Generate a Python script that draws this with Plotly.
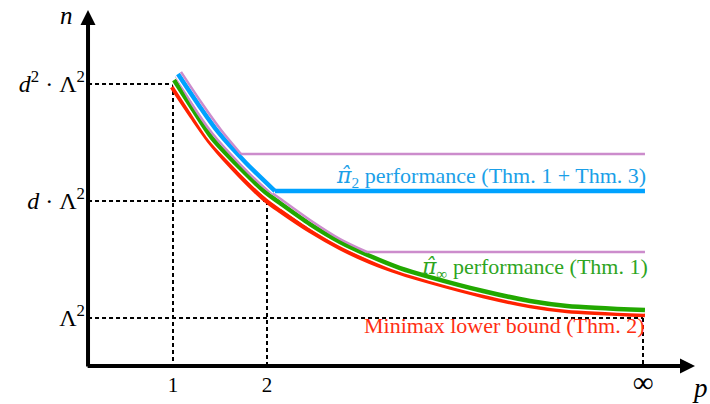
import plotly.graph_objects as go

# ---- data (p-position, n-level) ----
# p positions: 1 -> 1, 2 -> 2, infinity -> 6 ; n levels: Lambda^2 -> 1, d*Lambda^2 -> 2, d^2*Lambda^2 -> 3
tick_p = [1, 2, 6]
tick_p_text = ["1", "2", "<span style='font-size:29px'>∞</span>"]
tick_n = [1, 2, 3]
tick_n_text = ["Λ<sup>2</sup>", "<i>d</i> · Λ<sup>2</sup>", "<i>d</i><sup>2</sup> · Λ<sup>2</sup>"]

red_x = [0.989, 1.202, 1.415, 1.713, 1.979, 2.138, 2.457, 2.777, 3.096, 3.415, 3.734, 4.298, 4.798, 5.191, 6.021]
red_y = [2.974, 2.718, 2.479, 2.214, 2.009, 1.915, 1.744, 1.598, 1.479, 1.385, 1.308, 1.188, 1.103, 1.060, 1.026]

green_x = [1.011, 1.202, 1.415, 1.713, 1.979, 2.138, 2.457, 2.777, 3.096, 3.415, 3.734, 4.298, 4.798, 5.191, 6.021]
green_y = [3.034, 2.795, 2.538, 2.282, 2.077, 1.983, 1.803, 1.650, 1.530, 1.427, 1.350, 1.231, 1.145, 1.103, 1.068]

blue_curve_x = [1.053, 1.266, 1.479, 1.777, 2.085]
blue_curve_y = [3.085, 2.829, 2.590, 2.325, 2.085]
blue_flat_x = [2.085, 6.021]
blue_flat_y = [2.085, 2.085]

lav1_curve_x = [1.085, 1.298, 1.511, 1.723]
lav1_curve_y = [3.103, 2.846, 2.607, 2.402]
lav1_flat_x = [1.723, 6.021]
lav1_flat_y = [2.402, 2.402]

lav2_curve_x = [1.032, 1.202, 1.415, 1.713, 1.979, 2.138, 2.457, 2.777, 3.064]
lav2_curve_y = [3.068, 2.829, 2.581, 2.316, 2.111, 2.021, 1.838, 1.675, 1.564]
lav2_flat_x = [3.064, 6.021]
lav2_flat_y = [1.564, 1.564]

guide_p = [1, 2, 6]      # where dashed guides meet
guide_n = [3, 2, 1]

origin_x, origin_y = 0.096, 0.590
x_tip, y_tip = 6.553, 3.632

HAT = "<span style='font-family:DejaVu Serif'><i>π̂</i></span>"
labels = [
    (HAT + "<sub>2</sub> performance (Thm. 1 + Thm. 3)", 6.05, 2.209, "#1a9fe8"),
    (HAT + "<sub>∞</sub> performance (Thm. 1)", 6.07, 1.427, "#2ea51e"),
    ("Minimax lower bound (Thm. 2)", 6.03, 0.936, "#ff2e12"),
]

RED = "#ff2200"
GREEN = "#22a800"
BLUE = "#00a2ff"
LAV = "#cc8ccc"
FONT = "Liberation Serif"

fig = go.Figure()

# dashed guides
for gp, gn in zip(guide_p, guide_n):
    fig.add_trace(go.Scatter(x=[origin_x, gp], y=[gn, gn], mode="lines",
                             line=dict(color="black", width=2, dash="4px,3px"),
                             hoverinfo="skip", showlegend=False, cliponaxis=False))
    fig.add_trace(go.Scatter(x=[gp, gp], y=[gn, origin_y], mode="lines",
                             line=dict(color="black", width=2, dash="4px,3px"),
                             hoverinfo="skip", showlegend=False, cliponaxis=False))

def add_line(x, y, color, width, shape="spline"):
    fig.add_trace(go.Scatter(x=x, y=y, mode="lines",
                             line=dict(color=color, width=width, shape=shape, smoothing=0.8),
                             hoverinfo="skip", showlegend=False))

add_line(red_x, red_y, RED, 4.5)
add_line(green_x, green_y, "white", 7.5)
add_line(green_x, green_y, GREEN, 4.5)
add_line(lav2_curve_x, lav2_curve_y, LAV, 2.5)
add_line(lav2_flat_x, lav2_flat_y, LAV, 2.5, "linear")
add_line(blue_curve_x, blue_curve_y, "white", 7)
add_line(blue_curve_x, blue_curve_y, BLUE, 4.5)
add_line(blue_flat_x, blue_flat_y, BLUE, 4.5, "linear")
add_line(lav1_curve_x, lav1_curve_y, LAV, 2.5)
add_line(lav1_flat_x, lav1_flat_y, LAV, 2.5, "linear")

annotations = []
# axes with arrow heads
annotations.append(dict(x=x_tip, y=origin_y, ax=origin_x - 0.02, ay=origin_y, xref="x", yref="y",
                        axref="x", ayref="y", text="", showarrow=True, arrowhead=2,
                        arrowwidth=4, arrowsize=0.75, arrowcolor="black", standoff=0))
annotations.append(dict(x=origin_x, y=y_tip, ax=origin_x, ay=origin_y - 0.017, xref="x", yref="y",
                        axref="x", ayref="y", text="", showarrow=True, arrowhead=2,
                        arrowwidth=4, arrowsize=0.75, arrowcolor="black", standoff=0))
# axis names (paper coordinates, they sit outside the data range)
annotations.append(dict(x=-0.031, y=1.0137, xref="paper", yref="paper", text="<i>n</i>",
                        xanchor="center", yanchor="top",
                        showarrow=False, font=dict(family=FONT, size=25, color="black")))
annotations.append(dict(x=0.992, y=-0.049, xref="paper", yref="paper", text="<i>p</i>",
                        xanchor="center", yanchor="middle",
                        showarrow=False, font=dict(family=FONT, size=27, color="black")))
for txt, lx, ly, col in labels:
    annotations.append(dict(x=lx, y=ly, xref="x", yref="y", text=txt, showarrow=False,
                            xanchor="right", yanchor="middle",
                            font=dict(family=FONT, size=22, color=col)))

fig.update_layout(
    width=710, height=404,
    margin=dict(l=86, r=5, t=5, b=34),
    paper_bgcolor="white", plot_bgcolor="white",
    annotations=annotations,
    xaxis=dict(range=[0.0745, 6.6596], showgrid=False, zeroline=False, showline=False,
               automargin=False, fixedrange=True,
               tickmode="array", tickvals=tick_p, ticktext=tick_p_text, ticks="",
               tickfont=dict(family=FONT, size=21, color="black")),
    yaxis=dict(range=[0.5556, 3.675], showgrid=False, zeroline=False, showline=False,
               automargin=False, fixedrange=True,
               tickmode="array", tickvals=tick_n, ticktext=tick_n_text, ticks="",
               tickfont=dict(family=FONT, size=24, color="black")),
)

fig.write_html("out.html", config={"displayModeBar": False},
               post_script="document.body.style.margin='0';")
